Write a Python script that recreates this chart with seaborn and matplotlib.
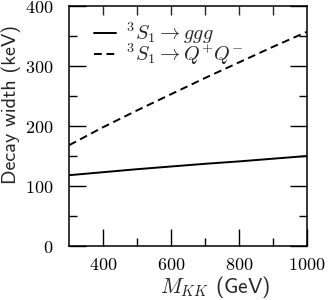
import matplotlib

matplotlib.use("Agg")

import matplotlib.pyplot as plt
import pandas as pd
import seaborn as sns

# values
mkk = [300, 400, 500, 600, 700, 800, 900, 1000]
width_ggg = [118, 123, 128, 132.5, 137, 141, 145.5, 150]
width_qq = [168, 198, 226, 253, 280, 306, 332, 357]
labels = [r"$^3S_1 \rightarrow ggg$", r"$^3S_1 \rightarrow Q^{+}Q^{-}$"]
xticks = [400, 600, 800, 1000]
yticks = [0, 100, 200, 300, 400]

sns.set_style("ticks")
plt.rcParams["mathtext.fontset"] = "cm"

df = pd.DataFrame({
    "mkk": mkk * 2,
    "width": width_ggg + width_qq,
    "channel": [labels[0]] * len(mkk) + [labels[1]] * len(mkk),
})

fig = plt.figure(figsize=(3.29, 3.0), dpi=100)
ax = fig.add_axes([0.21, 0.18, 0.723, 0.80])

sns.lineplot(data=df, x="mkk", y="width", style="channel", color="black",
             dashes={labels[0]: "", labels[1]: (4, 2.4)}, linewidth=1.4, ax=ax)

ax.set_xlim(300, 1000)
ax.set_ylim(0, 400)
ax.set_xticks(xticks, labels=[f"${v}$" for v in xticks])
ax.set_yticks(yticks, labels=[f"${v}$" for v in yticks])
ax.set_xticks([500, 700, 900], minor=True)
ax.set_yticks([50, 150, 250, 350], minor=True)
ax.tick_params(which="both", direction="in", width=1.0, labelsize=13,
               right=True, top=False, colors="black")
ax.tick_params(which="major", length=12)
ax.tick_params(which="minor", length=6)
ax.tick_params(axis="x", pad=7)
ax.tick_params(axis="y", pad=11)

top = ax.secondary_xaxis("top")
top.set_xticks([400, 500, 600, 700, 800, 900], labels=[])
top.tick_params(direction="in", length=6.5, width=1.0)
top.spines["top"].set_visible(False)

for s in ax.spines.values():
    s.set_linewidth(1.1)
    s.set_color("black")

ax.set_ylabel("Decay width (keV)", family="cmss10", fontsize=14.5, y=0.59, labelpad=3)
ax.set_xlabel(r"$M_{KK}$ (GeV)", family="cmss10", fontsize=15.5, x=0.613, labelpad=0)

handles, labs = ax.get_legend_handles_labels()
ax.legend(handles, labs, frameon=False, loc="upper left", fontsize=14.5,
          handlelength=1.1, handletextpad=0.5, labelspacing=-0.18,
          borderaxespad=0, bbox_to_anchor=(0.07, 0.975))

fig.savefig("out.png", dpi=100)
